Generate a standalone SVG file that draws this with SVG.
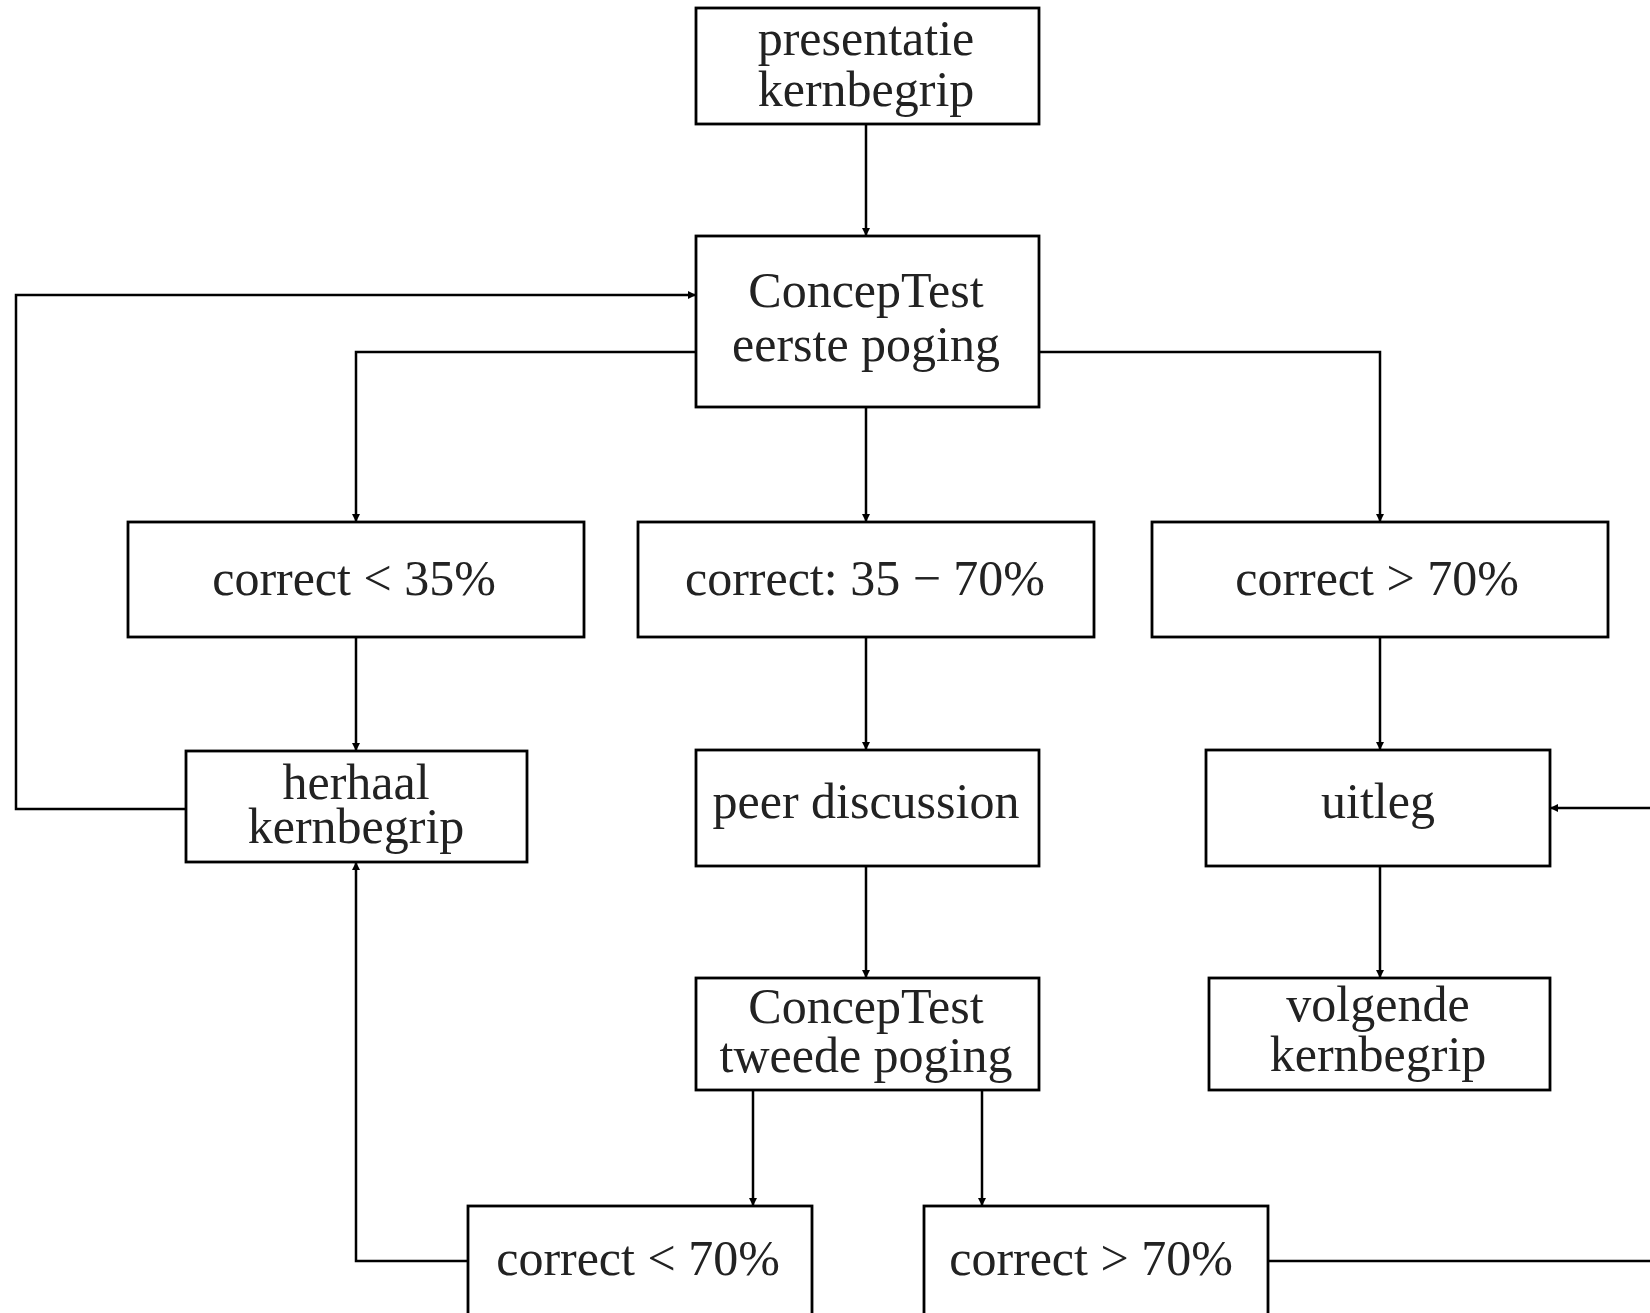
<svg xmlns="http://www.w3.org/2000/svg" width="1650" height="1313" viewBox="0 0 1650 1313">
<style>
.box{fill:#fff;stroke:#000;stroke-width:2.8}
.lbl{font-family:"Liberation Serif","DejaVu Serif",serif;font-size:50px;fill:#222;text-anchor:middle}
.con{fill:none;stroke:#000;stroke-width:2.5}
</style>
<defs>
<marker id="arr" viewBox="0 0 10 10" refX="10" refY="5" markerWidth="8" markerHeight="8" markerUnits="userSpaceOnUse" orient="auto">
<path d="M0,0 L10,5 L0,10 Z" fill="#000"/>
</marker>
</defs>
<g id="connectors">
<path class="con" d="M866,124 V236" marker-end="url(#arr)"/>
<path class="con" d="M696,352 H356 V522" marker-end="url(#arr)"/>
<path class="con" d="M866,407 V522" marker-end="url(#arr)"/>
<path class="con" d="M1039,352 H1380 V522" marker-end="url(#arr)"/>
<path class="con" d="M356,637 V751" marker-end="url(#arr)"/>
<path class="con" d="M866,637 V750" marker-end="url(#arr)"/>
<path class="con" d="M1380,637 V750" marker-end="url(#arr)"/>
<path class="con" d="M186,809 H16 V295 H696" marker-end="url(#arr)"/>
<path class="con" d="M866,866 V978" marker-end="url(#arr)"/>
<path class="con" d="M1380,866 V978" marker-end="url(#arr)"/>
<path class="con" d="M753,1090 V1206" marker-end="url(#arr)"/>
<path class="con" d="M982,1090 V1206" marker-end="url(#arr)"/>
<path class="con" d="M468,1261 H356 V862" marker-end="url(#arr)"/>
<path class="con" d="M1268,1261 H1650"/>
<path class="con" d="M1650,808 H1550" marker-end="url(#arr)"/>
</g>
<g id="presentatie">
<rect class="box" x="696" y="8" width="343" height="116"/>
<text class="lbl" x="866" y="55">presentatie</text>
<text class="lbl" x="866" y="106">kernbegrip</text>
</g>
<g id="concep1">
<rect class="box" x="696" y="236" width="343" height="171"/>
<text class="lbl" x="866" y="307">ConcepTest</text>
<text class="lbl" x="866" y="361">eerste poging</text>
</g>
<g id="c35">
<rect class="box" x="128" y="522" width="456" height="115"/>
<text class="lbl" x="354" y="595">correct  &lt; 35%</text>
</g>
<g id="c3570">
<rect class="box" x="638" y="522" width="456" height="115"/>
<text class="lbl" x="865" y="595">correct: 35 − 70%</text>
</g>
<g id="c70">
<rect class="box" x="1152" y="522" width="456" height="115"/>
<text class="lbl" x="1377" y="595">correct  &gt; 70%</text>
</g>
<g id="herhaal">
<rect class="box" x="186" y="751" width="341" height="111"/>
<text class="lbl" x="356" y="799">herhaal</text>
<text class="lbl" x="356" y="843">kernbegrip</text>
</g>
<g id="peer">
<rect class="box" x="696" y="750" width="343" height="116"/>
<text class="lbl" x="866" y="818">peer discussion</text>
</g>
<g id="uitleg">
<rect class="box" x="1206" y="750" width="344" height="116"/>
<text class="lbl" x="1378" y="818">uitleg</text>
</g>
<g id="concep2">
<rect class="box" x="696" y="978" width="343" height="112"/>
<text class="lbl" x="866" y="1023">ConcepTest</text>
<text class="lbl" x="866" y="1072">tweede poging</text>
</g>
<g id="volgende">
<rect class="box" x="1209" y="978" width="341" height="112"/>
<text class="lbl" x="1378" y="1021">volgende</text>
<text class="lbl" x="1378" y="1071">kernbegrip</text>
</g>
<g id="c70b">
<rect class="box" x="468" y="1206" width="344" height="130"/>
<text class="lbl" x="638" y="1275">correct &lt; 70%</text>
</g>
<g id="c70c">
<rect class="box" x="924" y="1206" width="344" height="130"/>
<text class="lbl" x="1091" y="1275">correct &gt; 70%</text>
</g>
</svg>
